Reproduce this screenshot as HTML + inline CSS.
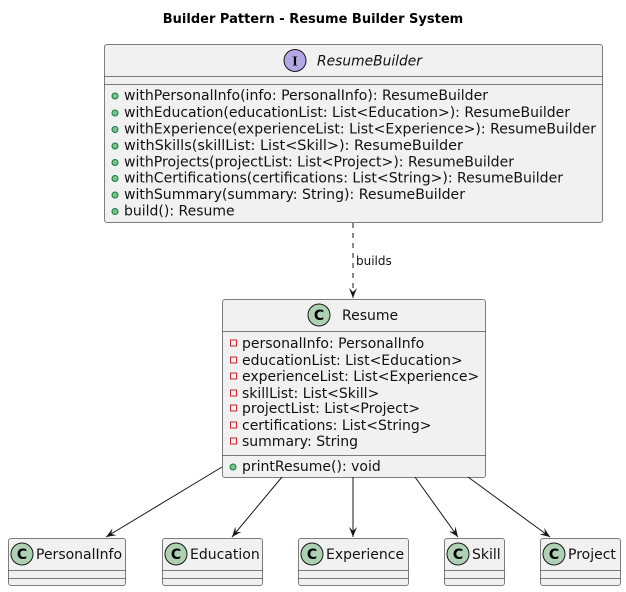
<!DOCTYPE html>
<html><head><meta charset="utf-8"><style>
html,body{margin:0;padding:0;background:#fff;}
svg{display:block;font-family:"DejaVu Sans","Liberation Sans",sans-serif;}
.b{fill:#f1f1f1;stroke:#181818;stroke-opacity:.55;stroke-width:1;}
.l{stroke:#181818;stroke-opacity:.55;stroke-width:1;}
.t{font-size:14px;fill:#111;}
.e{stroke:#181818;stroke-width:1;fill:none;}
</style></head><body>
<svg width="626" height="592" viewBox="0 0 626 592" xmlns="http://www.w3.org/2000/svg">
<defs>
<marker id="a" markerWidth="12" markerHeight="10" refX="10" refY="4" orient="auto" markerUnits="userSpaceOnUse">
<path d="M0,0 L10,4 L0,8 L4,4 z" fill="#181818"/>
</marker>
</defs>
<text x="313" y="23" text-anchor="middle" font-size="13" font-weight="bold" fill="#000">Builder Pattern - Resume Builder System</text>

<!-- ResumeBuilder -->
<rect class="b" x="104.5" y="44.5" width="498" height="178" rx="2.5"/>
<circle cx="295" cy="60.5" r="11" fill="#b4a7e5" stroke="#181818" stroke-width="1"/>
<text x="295" y="65.5" text-anchor="middle" font-size="14" font-weight="bold" font-family="Liberation Serif,serif">I</text>
<text class="t" x="317" y="65.5" font-style="italic" textLength="105" lengthAdjust="spacingAndGlyphs">ResumeBuilder</text>
<line class="l" x1="104.5" y1="76.5" x2="602.5" y2="76.5"/>
<line class="l" x1="104.5" y1="84.5" x2="602.5" y2="84.5"/>
<g fill="#84be84" stroke="#038048" stroke-width="1">
<circle cx="115" cy="96" r="3"/><circle cx="115" cy="113" r="3"/><circle cx="115" cy="129.5" r="3"/><circle cx="115" cy="146" r="3"/>
<circle cx="115" cy="162.5" r="3"/><circle cx="115" cy="178.5" r="3"/><circle cx="115" cy="195" r="3"/><circle cx="115" cy="211.5" r="3"/>
</g>
<g class="t">
<text x="124" y="100" textLength="364" lengthAdjust="spacingAndGlyphs">withPersonalInfo(info: PersonalInfo): ResumeBuilder</text>
<text x="124" y="117" textLength="446" lengthAdjust="spacingAndGlyphs">withEducation(educationList: List&lt;Education&gt;): ResumeBuilder</text>
<text x="124" y="133.5" textLength="472" lengthAdjust="spacingAndGlyphs">withExperience(experienceList: List&lt;Experience&gt;): ResumeBuilder</text>
<text x="124" y="150" textLength="339" lengthAdjust="spacingAndGlyphs">withSkills(skillList: List&lt;Skill&gt;): ResumeBuilder</text>
<text x="124" y="166.5" textLength="390" lengthAdjust="spacingAndGlyphs">withProjects(projectList: List&lt;Project&gt;): ResumeBuilder</text>
<text x="124" y="182.5" textLength="439" lengthAdjust="spacingAndGlyphs">withCertifications(certifications: List&lt;String&gt;): ResumeBuilder</text>
<text x="124" y="199" textLength="341" lengthAdjust="spacingAndGlyphs">withSummary(summary: String): ResumeBuilder</text>
<text x="124" y="215.5">build(): Resume</text>
</g>

<line class="e" x1="353" y1="223" x2="353" y2="298" stroke-dasharray="5,5" marker-end="url(#a)"/>
<text x="356" y="265" font-size="12" fill="#111">builds</text>

<!-- Resume -->
<rect class="b" x="222.5" y="299.5" width="263" height="178" rx="2.5"/>
<circle cx="319" cy="315" r="11" fill="#add1b2" stroke="#181818" stroke-width="1"/>
<text x="319" y="320" text-anchor="middle" font-size="14" font-weight="bold">C</text>
<text class="t" x="342" y="320">Resume</text>
<line class="l" x1="222.5" y1="331.5" x2="485.5" y2="331.5"/>
<g fill="none" stroke="#c82930" stroke-width="1">
<rect x="230.5" y="340" width="6" height="6"/><rect x="230.5" y="357" width="6" height="6"/><rect x="230.5" y="373" width="6" height="6"/>
<rect x="230.5" y="390" width="6" height="6"/><rect x="230.5" y="405" width="6" height="6"/><rect x="230.5" y="422" width="6" height="6"/><rect x="230.5" y="438" width="6" height="6"/>
</g>
<g class="t">
<text x="242" y="348">personalInfo: PersonalInfo</text>
<text x="242" y="365">educationList: List&lt;Education&gt;</text>
<text x="242" y="381">experienceList: List&lt;Experience&gt;</text>
<text x="242" y="398">skillList: List&lt;Skill&gt;</text>
<text x="242" y="413">projectList: List&lt;Project&gt;</text>
<text x="242" y="430">certifications: List&lt;String&gt;</text>
<text x="242" y="446">summary: String</text>
</g>
<line class="l" x1="222.5" y1="455.5" x2="485.5" y2="455.5"/>
<circle cx="233" cy="467" r="3" fill="#84be84" stroke="#038048"/>
<text class="t" x="242" y="471">printResume(): void</text>

<!-- arrows -->
<line class="e" x1="222" y1="467" x2="106" y2="537" marker-end="url(#a)"/>
<line class="e" x1="282" y1="477" x2="232" y2="537" marker-end="url(#a)"/>
<line class="e" x1="353" y1="477" x2="353" y2="537" marker-end="url(#a)"/>
<line class="e" x1="415" y1="477" x2="458" y2="537" marker-end="url(#a)"/>
<line class="e" x1="468" y1="477" x2="550" y2="537" marker-end="url(#a)"/>

<!-- bottom classes -->
<g>
<rect class="b" x="8.5" y="538.5" width="117" height="47" rx="2.5"/>
<line class="l" x1="8.5" y1="570.5" x2="125.5" y2="570.5"/><line class="l" x1="8.5" y1="578.5" x2="125.5" y2="578.5"/>
<circle cx="22" cy="554" r="11" fill="#add1b2" stroke="#181818"/><text x="22" y="559" text-anchor="middle" font-size="14" font-weight="bold">C</text>
<text class="t" x="36" y="559">PersonalInfo</text>

<rect class="b" x="162.5" y="538.5" width="100" height="47" rx="2.5"/>
<line class="l" x1="162.5" y1="570.5" x2="262.5" y2="570.5"/><line class="l" x1="162.5" y1="578.5" x2="262.5" y2="578.5"/>
<circle cx="176" cy="554" r="11" fill="#add1b2" stroke="#181818"/><text x="176" y="559" text-anchor="middle" font-size="14" font-weight="bold">C</text>
<text class="t" x="190" y="559">Education</text>

<rect class="b" x="298.5" y="538.5" width="110" height="47" rx="2.5"/>
<line class="l" x1="298.5" y1="570.5" x2="408.5" y2="570.5"/><line class="l" x1="298.5" y1="578.5" x2="408.5" y2="578.5"/>
<circle cx="312" cy="554" r="11" fill="#add1b2" stroke="#181818"/><text x="312" y="559" text-anchor="middle" font-size="14" font-weight="bold">C</text>
<text class="t" x="326" y="559">Experience</text>

<rect class="b" x="444.5" y="538.5" width="60" height="47" rx="2.5"/>
<line class="l" x1="444.5" y1="570.5" x2="504.5" y2="570.5"/><line class="l" x1="444.5" y1="578.5" x2="504.5" y2="578.5"/>
<circle cx="458" cy="554" r="11" fill="#add1b2" stroke="#181818"/><text x="458" y="559" text-anchor="middle" font-size="14" font-weight="bold">C</text>
<text class="t" x="472" y="559">Skill</text>

<rect class="b" x="540.5" y="538.5" width="80" height="47" rx="2.5"/>
<line class="l" x1="540.5" y1="570.5" x2="620.5" y2="570.5"/><line class="l" x1="540.5" y1="578.5" x2="620.5" y2="578.5"/>
<circle cx="554" cy="554" r="11" fill="#add1b2" stroke="#181818"/><text x="554" y="559" text-anchor="middle" font-size="14" font-weight="bold">C</text>
<text class="t" x="568" y="559">Project</text>
</g>
</svg>
</body></html>
